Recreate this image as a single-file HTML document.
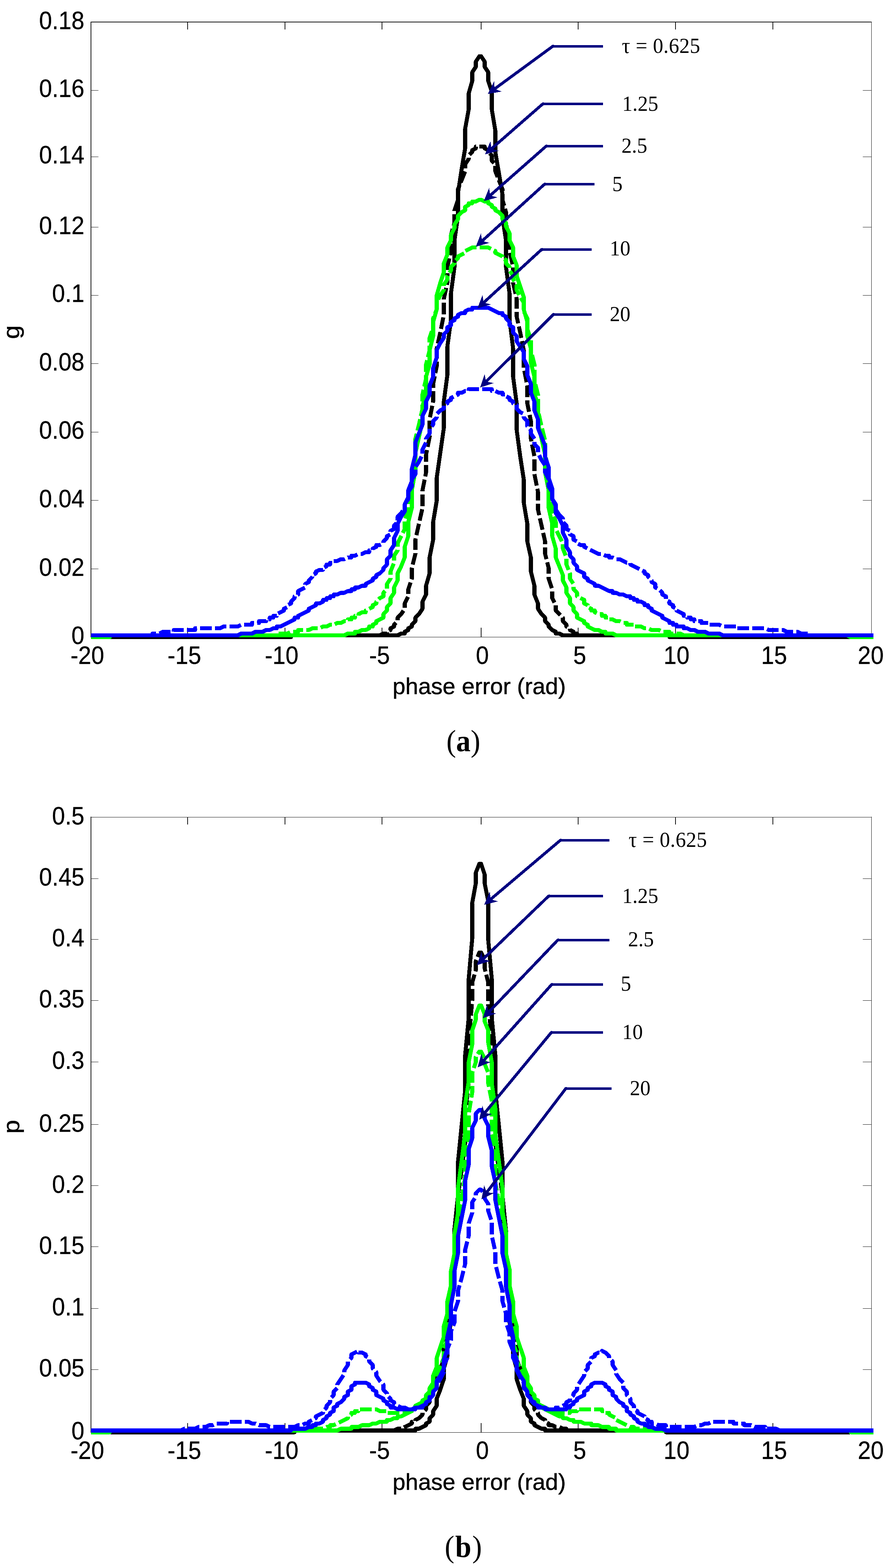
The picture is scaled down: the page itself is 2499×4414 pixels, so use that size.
<!DOCTYPE html>
<html lang="en"><head><meta charset="utf-8"><title>Phase error distributions</title>
<style>html,body{margin:0;padding:0;background:#fff}svg{display:block}text{fill:#000}</style></head>
<body>
<svg width="2499" height="4414" viewBox="0 0 2499 4414">
<rect width="2499" height="4414" fill="#fff"/>
<g>
<rect x="255" y="61" width="2" height="1733" fill="#000" shape-rendering="crispEdges"/>
<rect x="255" y="61" width="2198" height="2" fill="#000" shape-rendering="crispEdges"/>
<rect x="2452" y="61" width="1" height="1733" fill="#000" shape-rendering="crispEdges"/>
<rect x="255" y="1793" width="2198" height="1" fill="#000" shape-rendering="crispEdges"/>
<rect x="527" y="1767" width="2" height="26" fill="#000" shape-rendering="crispEdges"/>
<rect x="527" y="62" width="2" height="21" fill="#000" shape-rendering="crispEdges"/>
<rect x="801" y="1767" width="2" height="26" fill="#000" shape-rendering="crispEdges"/>
<rect x="801" y="62" width="2" height="21" fill="#000" shape-rendering="crispEdges"/>
<rect x="1074" y="1767" width="2" height="26" fill="#000" shape-rendering="crispEdges"/>
<rect x="1074" y="62" width="2" height="21" fill="#000" shape-rendering="crispEdges"/>
<rect x="1353" y="1767" width="2" height="26" fill="#000" shape-rendering="crispEdges"/>
<rect x="1353" y="62" width="2" height="21" fill="#000" shape-rendering="crispEdges"/>
<rect x="1626" y="1767" width="2" height="26" fill="#000" shape-rendering="crispEdges"/>
<rect x="1626" y="62" width="2" height="21" fill="#000" shape-rendering="crispEdges"/>
<rect x="1900" y="1767" width="2" height="26" fill="#000" shape-rendering="crispEdges"/>
<rect x="1900" y="62" width="2" height="21" fill="#000" shape-rendering="crispEdges"/>
<rect x="2174" y="1767" width="2" height="26" fill="#000" shape-rendering="crispEdges"/>
<rect x="2174" y="62" width="2" height="21" fill="#000" shape-rendering="crispEdges"/>
<rect x="257" y="254" width="20" height="1" fill="#000" shape-rendering="crispEdges"/>
<rect x="2428" y="254" width="24" height="1" fill="#000" shape-rendering="crispEdges"/>
<rect x="257" y="441" width="20" height="1" fill="#000" shape-rendering="crispEdges"/>
<rect x="2428" y="441" width="24" height="1" fill="#000" shape-rendering="crispEdges"/>
<rect x="257" y="639" width="20" height="1" fill="#000" shape-rendering="crispEdges"/>
<rect x="2428" y="639" width="24" height="1" fill="#000" shape-rendering="crispEdges"/>
<rect x="257" y="831" width="20" height="1" fill="#000" shape-rendering="crispEdges"/>
<rect x="2428" y="831" width="24" height="1" fill="#000" shape-rendering="crispEdges"/>
<rect x="257" y="1023" width="20" height="1" fill="#000" shape-rendering="crispEdges"/>
<rect x="2428" y="1023" width="24" height="1" fill="#000" shape-rendering="crispEdges"/>
<rect x="257" y="1216" width="20" height="1" fill="#000" shape-rendering="crispEdges"/>
<rect x="2428" y="1216" width="24" height="1" fill="#000" shape-rendering="crispEdges"/>
<rect x="257" y="1408" width="20" height="1" fill="#000" shape-rendering="crispEdges"/>
<rect x="2428" y="1408" width="24" height="1" fill="#000" shape-rendering="crispEdges"/>
<rect x="257" y="1601" width="20" height="1" fill="#000" shape-rendering="crispEdges"/>
<rect x="2428" y="1601" width="24" height="1" fill="#000" shape-rendering="crispEdges"/>
<path d="M311.0,1793.5L819.0,1793.5L819.0,1788.5L1119.0,1788.5L1129.0,1783.5L1139.0,1783.5L1139.0,1778.5L1149.0,1773.5L1149.0,1768.6L1159.0,1763.6L1159.0,1758.6L1169.0,1748.6L1169.0,1738.7L1179.0,1728.7L1189.0,1713.7L1189.0,1693.8L1199.0,1673.8L1199.0,1648.9L1209.0,1614.0L1209.0,1569.2L1219.0,1519.3L1219.0,1469.5L1229.0,1409.6L1229.0,1344.8L1249.0,1205.3L1249.0,1130.5L1259.0,1055.7L1259.0,975.9L1269.0,901.2L1269.0,826.4L1279.0,751.6L1279.0,676.8L1289.0,607.1L1289.0,542.2L1299.0,477.4L1309.0,417.6L1309.0,362.8L1319.0,308.0L1319.0,263.1L1329.0,228.2L1329.0,203.3L1339.0,188.3L1339.0,173.4L1349.0,158.4L1354.0,158.4L1364.0,173.4L1364.0,188.3L1374.0,203.3L1374.0,228.2L1384.0,258.1L1384.0,308.0L1394.0,367.8L1394.0,427.6L1414.0,547.2L1414.0,612.0L1424.0,676.8L1424.0,751.6L1434.0,826.4L1434.0,901.2L1444.0,980.9L1444.0,1060.7L1454.0,1135.5L1454.0,1210.2L1464.0,1285.0L1474.0,1349.8L1474.0,1414.6L1484.0,1474.4L1484.0,1524.3L1494.0,1569.2L1494.0,1609.0L1504.0,1648.9L1504.0,1673.8L1514.0,1698.8L1514.0,1713.7L1524.0,1728.7L1534.0,1738.7L1534.0,1748.6L1544.0,1758.6L1544.0,1763.6L1554.0,1773.5L1564.0,1778.5L1564.0,1783.5L1574.0,1783.5L1584.0,1788.5L1884.0,1788.5L1884.0,1793.5L2391.6,1793.5" fill="none" stroke="#000000" stroke-width="11.2" stroke-linejoin="round" stroke-linecap="butt" shape-rendering="crispEdges"/>
<path d="M900.0,1788.5L1069.0,1788.5L1079.0,1783.5L1089.0,1783.5L1089.0,1778.5L1099.0,1773.5L1099.0,1768.6L1109.0,1763.6L1109.0,1758.6L1119.0,1748.6L1119.0,1738.7L1129.0,1728.7L1139.0,1713.7L1139.0,1698.8L1149.0,1678.8L1149.0,1658.9L1159.0,1629.0L1159.0,1599.1L1169.0,1559.2L1169.0,1519.3L1189.0,1429.6L1189.0,1379.7L1199.0,1329.9L1199.0,1280.0L1209.0,1230.2L1209.0,1180.3L1219.0,1130.5L1219.0,1080.6L1229.0,1030.8L1229.0,980.9L1239.0,936.1L1249.0,886.2L1249.0,841.3L1259.0,796.5L1259.0,751.6L1269.0,706.8L1269.0,661.9L1279.0,627.0L1279.0,592.1L1289.0,562.2L1289.0,532.3L1309.0,482.4L1309.0,462.5L1319.0,447.5L1319.0,437.6L1329.0,427.6L1329.0,422.6L1339.0,417.6L1339.0,412.6L1364.0,412.6L1364.0,417.6L1374.0,422.6L1374.0,427.6L1384.0,437.6L1384.0,452.5L1394.0,462.5L1394.0,482.4L1414.0,532.3L1414.0,562.2L1424.0,597.1L1424.0,632.0L1434.0,666.9L1434.0,706.8L1444.0,751.6L1444.0,796.5L1454.0,841.3L1454.0,891.2L1464.0,936.1L1474.0,985.9L1474.0,1035.8L1484.0,1085.6L1484.0,1135.5L1494.0,1185.3L1494.0,1235.2L1504.0,1285.0L1504.0,1334.9L1514.0,1384.7L1514.0,1434.6L1534.0,1524.3L1534.0,1559.2L1544.0,1599.1L1544.0,1629.0L1554.0,1658.9L1554.0,1683.8L1564.0,1703.8L1564.0,1718.7L1584.0,1738.7L1584.0,1748.6L1594.0,1758.6L1594.0,1763.6L1604.0,1768.6L1604.0,1773.5L1614.0,1778.5L1614.0,1783.5L1624.0,1783.5L1624.0,1788.5L1802.6,1788.5" fill="none" stroke="#000000" stroke-width="11.2" stroke-linejoin="round" stroke-linecap="butt" shape-rendering="crispEdges" stroke-dasharray="33 9" stroke-dashoffset="7.8"/>
<path d="M255.5,1793.5L309.0,1793.5L309.0,1788.5L969.0,1788.5L979.0,1783.5L999.0,1783.5L999.0,1778.5L1009.0,1778.5L1019.0,1773.5L1029.0,1773.5L1039.0,1768.6L1039.0,1763.6L1049.0,1763.6L1049.0,1758.6L1059.0,1753.6L1059.0,1748.6L1079.0,1738.7L1079.0,1728.7L1089.0,1718.7L1089.0,1708.7L1099.0,1698.8L1099.0,1683.8L1109.0,1668.9L1109.0,1653.9L1119.0,1634.0L1119.0,1614.0L1129.0,1594.1L1139.0,1569.2L1139.0,1539.2L1149.0,1509.3L1149.0,1469.5L1159.0,1429.6L1159.0,1379.7L1169.0,1324.9L1169.0,1275.0L1189.0,1185.3L1189.0,1145.4L1199.0,1100.6L1199.0,1060.7L1209.0,1025.8L1209.0,985.9L1219.0,946.0L1219.0,906.2L1229.0,871.3L1229.0,831.4L1239.0,796.5L1249.0,766.6L1249.0,741.6L1259.0,716.7L1259.0,696.8L1269.0,676.8L1269.0,661.9L1279.0,641.9L1279.0,632.0L1289.0,617.0L1289.0,607.1L1299.0,597.1L1309.0,592.1L1309.0,582.1L1319.0,577.1L1319.0,572.2L1329.0,572.2L1329.0,567.2L1339.0,567.2L1349.0,562.2L1354.0,562.2L1364.0,567.2L1374.0,567.2L1374.0,572.2L1384.0,577.1L1384.0,582.1L1394.0,587.1L1394.0,592.1L1404.0,597.1L1414.0,607.1L1414.0,617.0L1424.0,627.0L1424.0,637.0L1434.0,656.9L1434.0,676.8L1444.0,696.8L1444.0,721.7L1454.0,746.6L1454.0,776.5L1474.0,836.4L1474.0,871.3L1484.0,906.2L1484.0,946.0L1494.0,980.9L1494.0,1020.8L1504.0,1060.7L1504.0,1105.6L1514.0,1145.4L1514.0,1190.3L1534.0,1280.0L1534.0,1329.9L1544.0,1379.7L1544.0,1429.6L1554.0,1474.4L1554.0,1509.3L1564.0,1544.2L1564.0,1569.2L1584.0,1619.0L1584.0,1634.0L1594.0,1653.9L1594.0,1668.9L1604.0,1683.8L1604.0,1698.8L1614.0,1708.7L1614.0,1718.7L1624.0,1728.7L1624.0,1738.7L1644.0,1748.6L1644.0,1753.6L1654.0,1758.6L1654.0,1763.6L1674.0,1773.5L1684.0,1773.5L1694.0,1778.5L1704.0,1778.5L1704.0,1783.5L1724.0,1783.5L1734.0,1788.5L2384.0,1788.5L2394.0,1793.5L2458.0,1793.5" fill="none" stroke="#00ff00" stroke-width="11.2" stroke-linejoin="round" stroke-linecap="butt" shape-rendering="crispEdges"/>
<path d="M600.0,1788.5L779.0,1788.5L779.0,1783.5L809.0,1783.5L819.0,1778.5L839.0,1778.5L839.0,1773.5L869.0,1773.5L879.0,1768.6L899.0,1768.6L909.0,1763.6L919.0,1763.6L929.0,1758.6L939.0,1758.6L949.0,1753.6L959.0,1753.6L969.0,1748.6L979.0,1748.6L979.0,1743.6L989.0,1743.6L989.0,1738.7L999.0,1738.7L999.0,1733.7L1009.0,1733.7L1009.0,1728.7L1019.0,1723.7L1029.0,1723.7L1029.0,1718.7L1049.0,1708.7L1049.0,1703.8L1059.0,1698.8L1059.0,1693.8L1069.0,1683.8L1079.0,1678.8L1079.0,1668.9L1089.0,1658.9L1089.0,1643.9L1099.0,1629.0L1099.0,1609.0L1109.0,1584.1L1109.0,1564.2L1119.0,1549.2L1119.0,1529.3L1139.0,1489.4L1139.0,1464.5L1149.0,1434.6L1149.0,1399.7L1159.0,1359.8L1159.0,1319.9L1169.0,1280.0L1169.0,1235.2L1179.0,1195.3L1189.0,1150.4L1189.0,1110.5L1199.0,1065.7L1199.0,1025.8L1209.0,985.9L1209.0,951.0L1219.0,921.1L1219.0,896.2L1229.0,871.3L1229.0,851.3L1239.0,831.4L1249.0,816.4L1249.0,801.5L1259.0,786.5L1259.0,776.5L1269.0,761.6L1269.0,751.6L1279.0,741.6L1279.0,736.7L1289.0,726.7L1289.0,721.7L1309.0,711.7L1309.0,706.8L1329.0,696.8L1374.0,696.8L1394.0,706.8L1394.0,711.7L1414.0,721.7L1414.0,726.7L1424.0,731.7L1424.0,741.6L1434.0,751.6L1434.0,761.6L1444.0,776.5L1444.0,786.5L1454.0,801.5L1454.0,816.4L1464.0,836.4L1474.0,851.3L1474.0,876.2L1484.0,896.2L1484.0,926.1L1494.0,956.0L1494.0,985.9L1504.0,1025.8L1504.0,1070.7L1514.0,1110.5L1514.0,1155.4L1524.0,1200.3L1534.0,1240.2L1534.0,1280.0L1544.0,1319.9L1544.0,1364.8L1554.0,1409.6L1554.0,1439.5L1564.0,1469.5L1564.0,1489.4L1584.0,1529.3L1584.0,1544.2L1594.0,1569.2L1594.0,1589.1L1604.0,1614.0L1604.0,1629.0L1614.0,1643.9L1614.0,1658.9L1624.0,1668.9L1624.0,1678.8L1644.0,1688.8L1644.0,1698.8L1654.0,1703.8L1654.0,1708.7L1664.0,1713.7L1664.0,1718.7L1674.0,1718.7L1674.0,1723.7L1684.0,1728.7L1694.0,1728.7L1694.0,1733.7L1704.0,1733.7L1704.0,1738.7L1714.0,1738.7L1714.0,1743.6L1724.0,1743.6L1734.0,1748.6L1744.0,1748.6L1754.0,1753.6L1764.0,1753.6L1764.0,1758.6L1784.0,1758.6L1784.0,1763.6L1804.0,1763.6L1814.0,1768.6L1824.0,1768.6L1834.0,1773.5L1854.0,1773.5L1864.0,1778.5L1884.0,1778.5L1884.0,1783.5L1914.0,1783.5L1924.0,1788.5L2102.6,1788.5" fill="none" stroke="#00ff00" stroke-width="11.2" stroke-linejoin="round" stroke-linecap="butt" shape-rendering="crispEdges" stroke-dasharray="33 9" stroke-dashoffset="20.8"/>
<path d="M255.5,1788.5L669.0,1788.5L679.0,1783.5L709.0,1783.5L719.0,1778.5L739.0,1778.5L749.0,1773.5L759.0,1773.5L769.0,1768.6L779.0,1768.6L779.0,1763.6L789.0,1763.6L829.0,1743.6L829.0,1738.7L839.0,1738.7L839.0,1733.7L869.0,1718.7L869.0,1713.7L889.0,1703.8L889.0,1698.8L899.0,1698.8L909.0,1693.8L909.0,1688.8L919.0,1688.8L919.0,1683.8L929.0,1683.8L929.0,1678.8L939.0,1678.8L939.0,1673.8L949.0,1673.8L959.0,1668.9L969.0,1668.9L979.0,1663.9L989.0,1663.9L989.0,1658.9L999.0,1658.9L999.0,1653.9L1009.0,1653.9L1019.0,1648.9L1029.0,1648.9L1029.0,1643.9L1049.0,1634.0L1049.0,1629.0L1059.0,1624.0L1059.0,1619.0L1069.0,1614.0L1079.0,1604.1L1079.0,1599.1L1089.0,1589.1L1089.0,1574.1L1099.0,1564.2L1099.0,1549.2L1109.0,1534.3L1109.0,1514.3L1119.0,1494.4L1119.0,1474.4L1129.0,1454.5L1139.0,1439.5L1139.0,1419.6L1149.0,1399.7L1149.0,1379.7L1159.0,1354.8L1159.0,1319.9L1169.0,1280.0L1169.0,1245.1L1189.0,1195.3L1189.0,1170.4L1199.0,1150.4L1199.0,1130.5L1209.0,1110.5L1209.0,1085.6L1219.0,1060.7L1219.0,1035.8L1229.0,1005.9L1229.0,985.9L1239.0,966.0L1249.0,951.0L1249.0,941.0L1259.0,931.1L1259.0,921.1L1269.0,916.1L1269.0,906.2L1279.0,901.2L1279.0,896.2L1289.0,891.2L1289.0,886.2L1299.0,881.2L1309.0,881.2L1309.0,876.2L1319.0,871.3L1329.0,871.3L1329.0,866.3L1374.0,866.3L1404.0,881.2L1414.0,881.2L1414.0,886.2L1424.0,891.2L1424.0,896.2L1434.0,906.2L1434.0,916.1L1444.0,921.1L1444.0,936.1L1454.0,946.0L1454.0,961.0L1474.0,990.9L1474.0,1010.8L1484.0,1030.8L1484.0,1055.7L1494.0,1080.6L1494.0,1105.6L1504.0,1130.5L1504.0,1155.4L1514.0,1180.3L1514.0,1205.3L1534.0,1255.1L1534.0,1285.0L1544.0,1314.9L1544.0,1344.8L1554.0,1374.7L1554.0,1404.7L1564.0,1424.6L1564.0,1444.5L1574.0,1459.5L1584.0,1479.4L1584.0,1499.4L1594.0,1519.3L1594.0,1539.2L1604.0,1554.2L1604.0,1564.2L1614.0,1574.1L1614.0,1584.1L1624.0,1594.1L1624.0,1604.1L1644.0,1614.0L1644.0,1624.0L1654.0,1629.0L1654.0,1634.0L1674.0,1643.9L1674.0,1648.9L1684.0,1648.9L1714.0,1663.9L1724.0,1663.9L1724.0,1668.9L1734.0,1668.9L1744.0,1673.8L1754.0,1673.8L1764.0,1678.8L1774.0,1678.8L1774.0,1683.8L1784.0,1683.8L1784.0,1688.8L1794.0,1688.8L1794.0,1693.8L1804.0,1693.8L1814.0,1698.8L1814.0,1703.8L1824.0,1703.8L1824.0,1708.7L1834.0,1713.7L1834.0,1718.7L1864.0,1733.7L1864.0,1738.7L1884.0,1748.6L1884.0,1753.6L1894.0,1753.6L1894.0,1758.6L1904.0,1758.6L1904.0,1763.6L1924.0,1763.6L1924.0,1768.6L1934.0,1768.6L1944.0,1773.5L1954.0,1773.5L1964.0,1778.5L1984.0,1778.5L1994.0,1783.5L2024.0,1783.5L2034.0,1788.5L2458.0,1788.5" fill="none" stroke="#0000ff" stroke-width="11.2" stroke-linejoin="round" stroke-linecap="butt" shape-rendering="crispEdges"/>
<path d="M255.5,1788.5L429.0,1788.5L429.0,1783.5L449.0,1783.5L459.0,1778.5L489.0,1778.5L489.0,1773.5L549.0,1773.5L549.0,1768.6L619.0,1768.6L629.0,1763.6L669.0,1763.6L679.0,1758.6L709.0,1758.6L709.0,1753.6L729.0,1753.6L729.0,1748.6L749.0,1748.6L749.0,1743.6L759.0,1743.6L759.0,1738.7L769.0,1738.7L769.0,1733.7L779.0,1733.7L779.0,1728.7L799.0,1718.7L799.0,1713.7L809.0,1708.7L809.0,1703.8L819.0,1698.8L819.0,1693.8L829.0,1683.8L829.0,1678.8L839.0,1673.8L839.0,1663.9L859.0,1653.9L859.0,1643.9L869.0,1639.0L869.0,1634.0L879.0,1624.0L879.0,1619.0L889.0,1614.0L889.0,1609.0L899.0,1604.1L909.0,1604.1L909.0,1599.1L919.0,1594.1L919.0,1589.1L929.0,1589.1L929.0,1584.1L939.0,1584.1L939.0,1579.1L949.0,1579.1L959.0,1574.1L969.0,1574.1L979.0,1569.2L989.0,1569.2L989.0,1564.2L999.0,1564.2L1009.0,1559.2L1019.0,1559.2L1029.0,1554.2L1039.0,1554.2L1039.0,1549.2L1049.0,1549.2L1049.0,1544.2L1059.0,1539.2L1059.0,1534.3L1069.0,1534.3L1079.0,1529.3L1079.0,1524.3L1089.0,1514.3L1089.0,1509.3L1099.0,1504.4L1099.0,1494.4L1109.0,1489.4L1109.0,1479.4L1119.0,1469.5L1119.0,1454.5L1129.0,1444.5L1139.0,1429.6L1139.0,1419.6L1149.0,1404.7L1149.0,1384.7L1159.0,1369.8L1159.0,1349.8L1169.0,1334.9L1169.0,1314.9L1179.0,1300.0L1189.0,1280.0L1189.0,1265.1L1199.0,1245.1L1199.0,1235.2L1209.0,1220.2L1209.0,1205.3L1219.0,1195.3L1219.0,1185.3L1229.0,1175.3L1229.0,1165.4L1239.0,1155.4L1249.0,1150.4L1249.0,1140.4L1259.0,1135.5L1259.0,1130.5L1269.0,1125.5L1269.0,1120.5L1289.0,1110.5L1289.0,1105.6L1299.0,1105.6L1309.0,1100.6L1319.0,1100.6L1319.0,1095.6L1384.0,1095.6L1384.0,1100.6L1394.0,1100.6L1404.0,1105.6L1414.0,1105.6L1414.0,1110.5L1424.0,1110.5L1424.0,1115.5L1434.0,1120.5L1434.0,1125.5L1444.0,1130.5L1444.0,1135.5L1454.0,1140.4L1454.0,1150.4L1464.0,1160.4L1474.0,1165.4L1474.0,1175.3L1484.0,1185.3L1484.0,1200.3L1494.0,1210.2L1494.0,1220.2L1504.0,1235.2L1504.0,1250.1L1514.0,1260.1L1514.0,1275.0L1524.0,1295.0L1534.0,1309.9L1534.0,1329.9L1544.0,1349.8L1544.0,1369.8L1554.0,1384.7L1554.0,1404.7L1564.0,1419.6L1564.0,1434.6L1574.0,1449.5L1584.0,1459.5L1584.0,1469.5L1594.0,1479.4L1594.0,1489.4L1604.0,1494.4L1604.0,1504.4L1614.0,1509.3L1614.0,1519.3L1624.0,1524.3L1624.0,1529.3L1634.0,1534.3L1644.0,1534.3L1644.0,1539.2L1684.0,1559.2L1694.0,1559.2L1704.0,1564.2L1714.0,1564.2L1714.0,1569.2L1724.0,1569.2L1734.0,1574.1L1744.0,1574.1L1764.0,1584.1L1774.0,1584.1L1774.0,1589.1L1814.0,1609.0L1814.0,1614.0L1824.0,1619.0L1824.0,1624.0L1834.0,1634.0L1834.0,1639.0L1844.0,1643.9L1844.0,1653.9L1854.0,1658.9L1864.0,1668.9L1864.0,1673.8L1874.0,1678.8L1874.0,1688.8L1884.0,1693.8L1884.0,1698.8L1894.0,1703.8L1894.0,1708.7L1904.0,1713.7L1904.0,1718.7L1924.0,1728.7L1924.0,1733.7L1934.0,1733.7L1934.0,1738.7L1944.0,1738.7L1944.0,1743.6L1954.0,1743.6L1954.0,1748.6L1974.0,1748.6L1974.0,1753.6L1994.0,1753.6L1994.0,1758.6L2024.0,1758.6L2034.0,1763.6L2074.0,1763.6L2074.0,1768.6L2154.0,1768.6L2164.0,1773.5L2204.0,1773.5L2214.0,1778.5L2244.0,1778.5L2254.0,1783.5L2274.0,1783.5L2274.0,1788.5L2458.0,1788.5" fill="none" stroke="#0000ff" stroke-width="11.2" stroke-linejoin="round" stroke-linecap="butt" shape-rendering="crispEdges" stroke-dasharray="33 9" stroke-dashoffset="12.1"/>
<text transform="translate(245.75,1868.5) scale(0.93,1)" font-size="70.4" text-anchor="middle" font-family='"Liberation Sans", Arial, Helvetica, sans-serif' stroke="#000" stroke-width="0.5" >-20</text>
<text transform="translate(518.75,1868.5) scale(0.93,1)" font-size="70.4" text-anchor="middle" font-family='"Liberation Sans", Arial, Helvetica, sans-serif' stroke="#000" stroke-width="0.5" >-15</text>
<text transform="translate(792.5,1868.5) scale(0.93,1)" font-size="70.4" text-anchor="middle" font-family='"Liberation Sans", Arial, Helvetica, sans-serif' stroke="#000" stroke-width="0.5" >-10</text>
<text transform="translate(1068,1868.5) scale(0.93,1)" font-size="70.4" text-anchor="middle" font-family='"Liberation Sans", Arial, Helvetica, sans-serif' stroke="#000" stroke-width="0.5" >-5</text>
<text transform="translate(1357.5,1868.5) scale(0.93,1)" font-size="70.4" text-anchor="middle" font-family='"Liberation Sans", Arial, Helvetica, sans-serif' stroke="#000" stroke-width="0.5" >0</text>
<text transform="translate(1631.5,1868.5) scale(0.93,1)" font-size="70.4" text-anchor="middle" font-family='"Liberation Sans", Arial, Helvetica, sans-serif' stroke="#000" stroke-width="0.5" >5</text>
<text transform="translate(1904,1868.5) scale(0.93,1)" font-size="70.4" text-anchor="middle" font-family='"Liberation Sans", Arial, Helvetica, sans-serif' stroke="#000" stroke-width="0.5" >10</text>
<text transform="translate(2178.5,1868.5) scale(0.93,1)" font-size="70.4" text-anchor="middle" font-family='"Liberation Sans", Arial, Helvetica, sans-serif' stroke="#000" stroke-width="0.5" >15</text>
<text transform="translate(2450.5,1868.5) scale(0.93,1)" font-size="70.4" text-anchor="middle" font-family='"Liberation Sans", Arial, Helvetica, sans-serif' stroke="#000" stroke-width="0.5" >20</text>
<text transform="translate(237.5,81.5) scale(0.93,1)" font-size="70.4" text-anchor="end" font-family='"Liberation Sans", Arial, Helvetica, sans-serif' stroke="#000" stroke-width="0.5" >0.18</text>
<text transform="translate(237.5,272.5) scale(0.93,1)" font-size="70.4" text-anchor="end" font-family='"Liberation Sans", Arial, Helvetica, sans-serif' stroke="#000" stroke-width="0.5" >0.16</text>
<text transform="translate(237.5,459.5) scale(0.93,1)" font-size="70.4" text-anchor="end" font-family='"Liberation Sans", Arial, Helvetica, sans-serif' stroke="#000" stroke-width="0.5" >0.14</text>
<text transform="translate(237.5,658.5) scale(0.93,1)" font-size="70.4" text-anchor="end" font-family='"Liberation Sans", Arial, Helvetica, sans-serif' stroke="#000" stroke-width="0.5" >0.12</text>
<text transform="translate(237.5,850) scale(0.93,1)" font-size="70.4" text-anchor="end" font-family='"Liberation Sans", Arial, Helvetica, sans-serif' stroke="#000" stroke-width="0.5" >0.1</text>
<text transform="translate(237.5,1042.5) scale(0.93,1)" font-size="70.4" text-anchor="end" font-family='"Liberation Sans", Arial, Helvetica, sans-serif' stroke="#000" stroke-width="0.5" >0.08</text>
<text transform="translate(237.5,1235) scale(0.93,1)" font-size="70.4" text-anchor="end" font-family='"Liberation Sans", Arial, Helvetica, sans-serif' stroke="#000" stroke-width="0.5" >0.06</text>
<text transform="translate(237.5,1427.5) scale(0.93,1)" font-size="70.4" text-anchor="end" font-family='"Liberation Sans", Arial, Helvetica, sans-serif' stroke="#000" stroke-width="0.5" >0.04</text>
<text transform="translate(237.5,1620.5) scale(0.93,1)" font-size="70.4" text-anchor="end" font-family='"Liberation Sans", Arial, Helvetica, sans-serif' stroke="#000" stroke-width="0.5" >0.02</text>
<text transform="translate(237.5,1812.5) scale(0.93,1)" font-size="70.4" text-anchor="end" font-family='"Liberation Sans", Arial, Helvetica, sans-serif' stroke="#000" stroke-width="0.5" >0</text>
<text transform="translate(1348.5,1954) scale(1.0,1)" font-size="65" text-anchor="middle" font-family='"Liberation Sans", Arial, Helvetica, sans-serif' stroke="#000" stroke-width="0.7" letter-spacing="0">phase error (rad)</text>
<text transform="translate(54,935) rotate(-90) scale(1.07,1)" font-size="65" text-anchor="middle" font-family='"Liberation Sans", Arial, Helvetica, sans-serif' stroke="#000" stroke-width="0.7">g</text>
<path d="M1696.5,130L1555,130" fill="none" stroke="#000080" stroke-width="7.0" shape-rendering="crispEdges"/>
<path d="M1558.8,130L1556,130L1388.6,252.7" fill="none" stroke="#000080" stroke-width="8.2" stroke-linejoin="bevel" shape-rendering="crispEdges"/>
<path d="M1372.5,264.5L1390.8,228.9L1391.9,250.3L1411.9,257.7Z" fill="#000080" shape-rendering="crispEdges"/>
<path d="M1696.5,292.5L1526.5,292.5" fill="none" stroke="#000080" stroke-width="7.0" shape-rendering="crispEdges"/>
<path d="M1530.3,292.5L1527.5,292.5L1380.1,421.3" fill="none" stroke="#000080" stroke-width="8.2" stroke-linejoin="bevel" shape-rendering="crispEdges"/>
<path d="M1365.0,434.5L1380.2,397.5L1383.1,418.7L1403.7,424.4Z" fill="#000080" shape-rendering="crispEdges"/>
<path d="M1696.5,411L1536.5,411" fill="none" stroke="#000080" stroke-width="7.0" shape-rendering="crispEdges"/>
<path d="M1540.3,411L1537.5,411L1376.5,552.8" fill="none" stroke="#000080" stroke-width="8.2" stroke-linejoin="bevel" shape-rendering="crispEdges"/>
<path d="M1361.5,566.0L1376.6,528.9L1379.5,550.1L1400.2,555.7Z" fill="#000080" shape-rendering="crispEdges"/>
<path d="M1672.5,518.5L1531.5,518.5" fill="none" stroke="#000080" stroke-width="7.0" shape-rendering="crispEdges"/>
<path d="M1535.3,518.5L1532.5,518.5L1353.8,681.0" fill="none" stroke="#000080" stroke-width="8.2" stroke-linejoin="bevel" shape-rendering="crispEdges"/>
<path d="M1339.0,694.5L1353.5,657.2L1356.8,678.4L1377.5,683.6Z" fill="#000080" shape-rendering="crispEdges"/>
<path d="M1665,702.5L1523,702.5" fill="none" stroke="#000080" stroke-width="7.0" shape-rendering="crispEdges"/>
<path d="M1526.8,702.5L1524,702.5L1358.2,854.5" fill="none" stroke="#000080" stroke-width="8.2" stroke-linejoin="bevel" shape-rendering="crispEdges"/>
<path d="M1343.5,868.0L1357.8,830.7L1361.2,851.8L1381.9,857.0Z" fill="#000080" shape-rendering="crispEdges"/>
<path d="M1665,885L1556.5,885" fill="none" stroke="#000080" stroke-width="7.0" shape-rendering="crispEdges"/>
<path d="M1560.3,885L1557.5,885L1365.2,1076.9" fill="none" stroke="#000080" stroke-width="8.2" stroke-linejoin="bevel" shape-rendering="crispEdges"/>
<path d="M1351.0,1091.0L1363.7,1053.1L1368.0,1074.1L1388.9,1078.4Z" fill="#000080" shape-rendering="crispEdges"/>
<text transform="translate(1750,149) scale(0.96,1)" font-size="60.5" text-anchor="start" font-family='"Liberation Serif", "DejaVu Serif", serif' ><tspan letter-spacing="0.6">τ = 0.625</tspan></text>
<text transform="translate(1751,311.5) scale(0.96,1)" font-size="60.5" text-anchor="start" font-family='"Liberation Serif", "DejaVu Serif", serif' >1.25</text>
<text transform="translate(1749,430) scale(0.96,1)" font-size="60.5" text-anchor="start" font-family='"Liberation Serif", "DejaVu Serif", serif' >2.5</text>
<text transform="translate(1723,537.5) scale(0.96,1)" font-size="60.5" text-anchor="start" font-family='"Liberation Serif", "DejaVu Serif", serif' >5</text>
<text transform="translate(1716,718.5) scale(0.96,1)" font-size="60.5" text-anchor="start" font-family='"Liberation Serif", "DejaVu Serif", serif' >10</text>
<text transform="translate(1716,903.5) scale(0.96,1)" font-size="60.5" text-anchor="start" font-family='"Liberation Serif", "DejaVu Serif", serif' >20</text>
<text transform="translate(1304,2115) scale(0.95,1)" font-size="86" text-anchor="middle" letter-spacing="0" font-family='"Liberation Serif", "DejaVu Serif", serif'>(<tspan font-weight="bold">a</tspan>)</text>
</g>
<g>
<rect x="255" y="2299" width="2" height="1734" fill="#000" shape-rendering="crispEdges"/>
<rect x="255" y="2300" width="2198" height="1" fill="#000" shape-rendering="crispEdges"/>
<rect x="2452" y="2299" width="1" height="1734" fill="#000" shape-rendering="crispEdges"/>
<rect x="255" y="4032" width="2198" height="1" fill="#000" shape-rendering="crispEdges"/>
<rect x="527" y="4006" width="2" height="26" fill="#000" shape-rendering="crispEdges"/>
<rect x="527" y="2300" width="2" height="21" fill="#000" shape-rendering="crispEdges"/>
<rect x="801" y="4006" width="2" height="26" fill="#000" shape-rendering="crispEdges"/>
<rect x="801" y="2300" width="2" height="21" fill="#000" shape-rendering="crispEdges"/>
<rect x="1074" y="4006" width="2" height="26" fill="#000" shape-rendering="crispEdges"/>
<rect x="1074" y="2300" width="2" height="21" fill="#000" shape-rendering="crispEdges"/>
<rect x="1353" y="4006" width="2" height="26" fill="#000" shape-rendering="crispEdges"/>
<rect x="1353" y="2300" width="2" height="21" fill="#000" shape-rendering="crispEdges"/>
<rect x="1626" y="4006" width="2" height="26" fill="#000" shape-rendering="crispEdges"/>
<rect x="1626" y="2300" width="2" height="21" fill="#000" shape-rendering="crispEdges"/>
<rect x="1900" y="4006" width="2" height="26" fill="#000" shape-rendering="crispEdges"/>
<rect x="1900" y="2300" width="2" height="21" fill="#000" shape-rendering="crispEdges"/>
<rect x="2174" y="4006" width="2" height="26" fill="#000" shape-rendering="crispEdges"/>
<rect x="2174" y="2300" width="2" height="21" fill="#000" shape-rendering="crispEdges"/>
<rect x="257" y="2473" width="20" height="1" fill="#000" shape-rendering="crispEdges"/>
<rect x="2428" y="2473" width="24" height="1" fill="#000" shape-rendering="crispEdges"/>
<rect x="257" y="2644" width="20" height="1" fill="#000" shape-rendering="crispEdges"/>
<rect x="2428" y="2644" width="24" height="1" fill="#000" shape-rendering="crispEdges"/>
<rect x="257" y="2816" width="20" height="1" fill="#000" shape-rendering="crispEdges"/>
<rect x="2428" y="2816" width="24" height="1" fill="#000" shape-rendering="crispEdges"/>
<rect x="257" y="2989" width="20" height="1" fill="#000" shape-rendering="crispEdges"/>
<rect x="2428" y="2989" width="24" height="1" fill="#000" shape-rendering="crispEdges"/>
<rect x="257" y="3165" width="20" height="1" fill="#000" shape-rendering="crispEdges"/>
<rect x="2428" y="3165" width="24" height="1" fill="#000" shape-rendering="crispEdges"/>
<rect x="257" y="3337" width="20" height="1" fill="#000" shape-rendering="crispEdges"/>
<rect x="2428" y="3337" width="24" height="1" fill="#000" shape-rendering="crispEdges"/>
<rect x="257" y="3509" width="20" height="1" fill="#000" shape-rendering="crispEdges"/>
<rect x="2428" y="3509" width="24" height="1" fill="#000" shape-rendering="crispEdges"/>
<rect x="257" y="3683" width="20" height="1" fill="#000" shape-rendering="crispEdges"/>
<rect x="2428" y="3683" width="24" height="1" fill="#000" shape-rendering="crispEdges"/>
<rect x="257" y="3855" width="20" height="1" fill="#000" shape-rendering="crispEdges"/>
<rect x="2428" y="3855" width="24" height="1" fill="#000" shape-rendering="crispEdges"/>
<path d="M311.0,4032.0L829.0,4032.0L829.0,4027.0L1169.0,4027.0L1169.0,4022.0L1179.0,4022.0L1199.0,4012.0L1199.0,4007.1L1209.0,4002.1L1209.0,3992.1L1219.0,3982.1L1219.0,3972.2L1229.0,3957.2L1229.0,3937.3L1239.0,3912.3L1249.0,3882.4L1249.0,3852.5L1259.0,3817.6L1259.0,3777.8L1269.0,3722.9L1269.0,3653.1L1279.0,3558.4L1279.0,3458.7L1289.0,3364.0L1289.0,3269.3L1309.0,3069.9L1309.0,2970.2L1319.0,2865.5L1319.0,2755.8L1329.0,2641.2L1329.0,2541.5L1339.0,2486.6L1339.0,2456.7L1349.0,2431.8L1354.0,2431.8L1364.0,2461.7L1364.0,2486.6L1374.0,2536.5L1374.0,2646.2L1384.0,2755.8L1384.0,2865.5L1394.0,2970.2L1394.0,3069.9L1414.0,3269.3L1414.0,3364.0L1424.0,3463.7L1424.0,3563.4L1434.0,3653.1L1434.0,3722.9L1444.0,3772.8L1444.0,3817.6L1454.0,3852.5L1454.0,3882.4L1464.0,3912.3L1474.0,3937.3L1474.0,3957.2L1484.0,3972.2L1484.0,3982.1L1494.0,3992.1L1494.0,4002.1L1504.0,4007.1L1504.0,4012.0L1524.0,4022.0L1534.0,4022.0L1534.0,4027.0L1874.0,4027.0L1874.0,4032.0L2392.0,4032.0" fill="none" stroke="#000000" stroke-width="11.2" stroke-linejoin="round" stroke-linecap="butt" shape-rendering="crispEdges"/>
<path d="M1000.0,4027.0L1109.0,4027.0L1119.0,4022.0L1129.0,4022.0L1159.0,4007.1L1159.0,4002.1L1169.0,4002.1L1169.0,3997.1L1179.0,3992.1L1189.0,3982.1L1189.0,3977.2L1199.0,3967.2L1199.0,3957.2L1209.0,3947.2L1209.0,3937.3L1219.0,3922.3L1219.0,3907.4L1229.0,3892.4L1229.0,3872.5L1239.0,3852.5L1249.0,3827.6L1249.0,3797.7L1259.0,3762.8L1259.0,3717.9L1269.0,3668.1L1269.0,3608.3L1279.0,3553.4L1279.0,3493.6L1289.0,3428.8L1289.0,3364.0L1299.0,3294.2L1309.0,3219.4L1309.0,3139.7L1319.0,3045.0L1319.0,2930.3L1329.0,2815.6L1329.0,2765.8L1339.0,2730.9L1339.0,2706.0L1349.0,2681.1L1354.0,2681.1L1364.0,2701.0L1364.0,2725.9L1374.0,2765.8L1374.0,2830.6L1384.0,2925.3L1384.0,3040.0L1394.0,3134.7L1394.0,3219.4L1404.0,3294.2L1414.0,3364.0L1414.0,3428.8L1424.0,3488.6L1424.0,3553.4L1434.0,3608.3L1434.0,3668.1L1444.0,3717.9L1444.0,3762.8L1454.0,3797.7L1454.0,3827.6L1464.0,3852.5L1474.0,3872.5L1474.0,3892.4L1484.0,3907.4L1484.0,3922.3L1494.0,3932.3L1494.0,3947.2L1504.0,3957.2L1504.0,3967.2L1514.0,3977.2L1514.0,3982.1L1524.0,3992.1L1534.0,3997.1L1534.0,4002.1L1544.0,4007.1L1544.0,4012.0L1554.0,4012.0L1564.0,4017.0L1574.0,4017.0L1584.0,4022.0L1594.0,4022.0L1594.0,4027.0L1703.0,4027.0" fill="none" stroke="#000000" stroke-width="11.2" stroke-linejoin="round" stroke-linecap="butt" shape-rendering="crispEdges" stroke-dasharray="33 9" stroke-dashoffset="29.2"/>
<path d="M255.5,4032.0L309.0,4032.0L309.0,4027.0L949.0,4027.0L959.0,4022.0L989.0,4022.0L989.0,4017.0L1009.0,4017.0L1019.0,4012.0L1039.0,4012.0L1049.0,4007.1L1059.0,4007.1L1069.0,4002.1L1089.0,4002.1L1089.0,3997.1L1099.0,3997.1L1109.0,3992.1L1119.0,3992.1L1119.0,3987.1L1129.0,3987.1L1159.0,3972.2L1159.0,3967.2L1169.0,3962.2L1169.0,3957.2L1189.0,3947.2L1189.0,3942.3L1199.0,3937.3L1199.0,3927.3L1209.0,3917.3L1209.0,3907.4L1219.0,3892.4L1219.0,3872.5L1229.0,3847.5L1229.0,3822.6L1249.0,3762.8L1249.0,3732.9L1259.0,3698.0L1259.0,3663.1L1269.0,3618.2L1269.0,3578.3L1279.0,3528.5L1279.0,3473.7L1289.0,3413.8L1289.0,3344.1L1299.0,3269.3L1309.0,3189.5L1309.0,3109.8L1319.0,3045.0L1319.0,2990.1L1329.0,2940.3L1329.0,2900.4L1339.0,2870.5L1339.0,2855.5L1349.0,2830.6L1354.0,2830.6L1364.0,2855.5L1364.0,2875.5L1374.0,2900.4L1374.0,2935.3L1384.0,2990.1L1384.0,3049.9L1394.0,3119.7L1394.0,3194.5L1414.0,3344.1L1414.0,3408.9L1424.0,3468.7L1424.0,3528.5L1434.0,3573.4L1434.0,3618.2L1444.0,3663.1L1444.0,3698.0L1454.0,3732.9L1454.0,3762.8L1474.0,3822.6L1474.0,3847.5L1484.0,3872.5L1484.0,3892.4L1494.0,3907.4L1494.0,3917.3L1504.0,3927.3L1504.0,3937.3L1514.0,3942.3L1514.0,3952.2L1544.0,3967.2L1544.0,3972.2L1574.0,3987.1L1584.0,3987.1L1584.0,3992.1L1594.0,3992.1L1604.0,3997.1L1614.0,3997.1L1614.0,4002.1L1634.0,4002.1L1644.0,4007.1L1664.0,4007.1L1664.0,4012.0L1684.0,4012.0L1694.0,4017.0L1714.0,4017.0L1714.0,4022.0L1734.0,4022.0L1734.0,4027.0L2394.0,4027.0L2394.0,4032.0L2458.0,4032.0" fill="none" stroke="#00ff00" stroke-width="11.2" stroke-linejoin="round" stroke-linecap="butt" shape-rendering="crispEdges"/>
<path d="M700.0,4027.0L879.0,4027.0L879.0,4022.0L909.0,4022.0L919.0,4017.0L929.0,4017.0L929.0,4012.0L939.0,4012.0L979.0,3992.1L979.0,3987.1L989.0,3982.1L989.0,3977.2L999.0,3977.2L999.0,3972.2L1009.0,3972.2L1009.0,3967.2L1059.0,3967.2L1069.0,3972.2L1089.0,3972.2L1089.0,3977.2L1139.0,3977.2L1149.0,3972.2L1159.0,3972.2L1159.0,3967.2L1169.0,3967.2L1169.0,3962.2L1179.0,3962.2L1189.0,3957.2L1189.0,3952.2L1199.0,3947.2L1199.0,3942.3L1209.0,3932.3L1209.0,3922.3L1219.0,3912.3L1219.0,3902.4L1229.0,3887.4L1229.0,3867.5L1239.0,3847.5L1249.0,3822.6L1249.0,3797.7L1259.0,3772.8L1259.0,3737.9L1269.0,3703.0L1269.0,3658.1L1279.0,3608.3L1279.0,3548.4L1289.0,3493.6L1289.0,3433.8L1309.0,3314.1L1309.0,3254.3L1319.0,3194.5L1319.0,3134.7L1329.0,3074.9L1329.0,3020.0L1339.0,2990.1L1339.0,2975.2L1349.0,2960.2L1354.0,2960.2L1364.0,2980.1L1364.0,2995.1L1374.0,3020.0L1374.0,3049.9L1384.0,3099.8L1384.0,3189.5L1394.0,3269.3L1394.0,3329.1L1414.0,3438.8L1414.0,3488.6L1424.0,3538.5L1424.0,3588.3L1434.0,3638.2L1434.0,3693.0L1444.0,3742.9L1444.0,3782.7L1454.0,3807.7L1454.0,3832.6L1464.0,3852.5L1474.0,3867.5L1474.0,3882.4L1484.0,3897.4L1484.0,3907.4L1494.0,3922.3L1494.0,3927.3L1504.0,3937.3L1504.0,3947.2L1514.0,3952.2L1514.0,3957.2L1554.0,3977.2L1604.0,3977.2L1604.0,3972.2L1624.0,3972.2L1624.0,3967.2L1694.0,3967.2L1694.0,3972.2L1704.0,3972.2L1704.0,3977.2L1714.0,3977.2L1714.0,3982.1L1734.0,3992.1L1734.0,3997.1L1774.0,4017.0L1784.0,4017.0L1784.0,4022.0L1824.0,4022.0L1834.0,4027.0L2003.0,4027.0" fill="none" stroke="#00ff00" stroke-width="11.2" stroke-linejoin="round" stroke-linecap="butt" shape-rendering="crispEdges" stroke-dasharray="33 9" stroke-dashoffset="27.9"/>
<path d="M255.5,4027.0L819.0,4027.0L819.0,4022.0L859.0,4022.0L869.0,4017.0L879.0,4017.0L879.0,4012.0L889.0,4012.0L889.0,4007.1L899.0,4007.1L909.0,4002.1L909.0,3997.1L919.0,3992.1L919.0,3987.1L929.0,3982.1L929.0,3977.2L939.0,3972.2L939.0,3962.2L949.0,3957.2L949.0,3952.2L959.0,3947.2L969.0,3937.3L969.0,3932.3L979.0,3927.3L979.0,3917.3L989.0,3912.3L989.0,3902.4L999.0,3897.4L999.0,3892.4L1029.0,3892.4L1039.0,3897.4L1039.0,3902.4L1049.0,3907.4L1049.0,3912.3L1059.0,3917.3L1059.0,3927.3L1079.0,3937.3L1079.0,3942.3L1089.0,3947.2L1089.0,3952.2L1099.0,3957.2L1099.0,3962.2L1109.0,3962.2L1119.0,3967.2L1169.0,3967.2L1169.0,3962.2L1189.0,3962.2L1189.0,3957.2L1199.0,3952.2L1199.0,3947.2L1209.0,3942.3L1209.0,3937.3L1219.0,3927.3L1219.0,3917.3L1229.0,3907.4L1229.0,3887.4L1239.0,3872.5L1249.0,3852.5L1249.0,3827.6L1259.0,3797.7L1259.0,3762.8L1269.0,3717.9L1269.0,3673.1L1279.0,3623.2L1279.0,3578.3L1289.0,3528.5L1289.0,3478.7L1309.0,3378.9L1309.0,3324.1L1319.0,3279.2L1319.0,3234.4L1329.0,3204.5L1329.0,3174.6L1339.0,3154.6L1339.0,3134.7L1349.0,3124.7L1354.0,3124.7L1364.0,3139.7L1364.0,3149.6L1374.0,3169.6L1374.0,3199.5L1384.0,3239.4L1384.0,3284.2L1394.0,3329.1L1394.0,3378.9L1414.0,3478.7L1414.0,3528.5L1424.0,3573.4L1424.0,3623.2L1434.0,3673.1L1434.0,3717.9L1444.0,3762.8L1444.0,3797.7L1454.0,3827.6L1454.0,3852.5L1464.0,3872.5L1474.0,3887.4L1474.0,3902.4L1484.0,3917.3L1484.0,3927.3L1494.0,3937.3L1494.0,3942.3L1504.0,3952.2L1514.0,3957.2L1514.0,3962.2L1534.0,3962.2L1534.0,3967.2L1594.0,3967.2L1594.0,3962.2L1604.0,3962.2L1604.0,3957.2L1614.0,3952.2L1614.0,3947.2L1624.0,3942.3L1624.0,3937.3L1644.0,3927.3L1644.0,3917.3L1654.0,3912.3L1654.0,3907.4L1664.0,3902.4L1664.0,3897.4L1674.0,3892.4L1694.0,3892.4L1704.0,3897.4L1704.0,3902.4L1714.0,3907.4L1714.0,3912.3L1724.0,3917.3L1724.0,3927.3L1734.0,3932.3L1734.0,3937.3L1744.0,3947.2L1754.0,3952.2L1754.0,3957.2L1764.0,3962.2L1764.0,3972.2L1774.0,3977.2L1774.0,3982.1L1784.0,3987.1L1784.0,3992.1L1794.0,3997.1L1794.0,4002.1L1804.0,4007.1L1814.0,4007.1L1814.0,4012.0L1824.0,4012.0L1824.0,4017.0L1834.0,4017.0L1844.0,4022.0L1864.0,4022.0L1874.0,4027.0L2458.0,4027.0" fill="none" stroke="#0000ff" stroke-width="11.2" stroke-linejoin="round" stroke-linecap="butt" shape-rendering="crispEdges"/>
<path d="M255.5,4027.0L509.0,4027.0L519.0,4022.0L549.0,4022.0L559.0,4017.0L579.0,4017.0L589.0,4012.0L599.0,4012.0L609.0,4007.1L639.0,4007.1L639.0,4002.1L699.0,4002.1L709.0,4007.1L719.0,4007.1L729.0,4012.0L749.0,4012.0L759.0,4017.0L829.0,4017.0L839.0,4012.0L849.0,4012.0L859.0,4007.1L869.0,4007.1L869.0,4002.1L889.0,3992.1L889.0,3987.1L909.0,3977.2L909.0,3972.2L919.0,3962.2L919.0,3957.2L929.0,3947.2L929.0,3937.3L939.0,3927.3L939.0,3917.3L949.0,3907.4L949.0,3897.4L969.0,3867.5L969.0,3857.5L979.0,3842.6L979.0,3832.6L989.0,3822.6L989.0,3812.6L1009.0,3802.7L1009.0,3807.7L1019.0,3807.7L1029.0,3812.6L1029.0,3817.6L1039.0,3822.6L1039.0,3832.6L1049.0,3842.6L1049.0,3852.5L1059.0,3862.5L1059.0,3872.5L1069.0,3887.4L1079.0,3897.4L1079.0,3912.3L1089.0,3922.3L1089.0,3927.3L1099.0,3937.3L1099.0,3942.3L1109.0,3947.2L1109.0,3952.2L1129.0,3962.2L1139.0,3962.2L1149.0,3967.2L1159.0,3967.2L1169.0,3962.2L1179.0,3962.2L1189.0,3957.2L1189.0,3952.2L1199.0,3952.2L1199.0,3947.2L1209.0,3942.3L1209.0,3932.3L1219.0,3927.3L1219.0,3917.3L1229.0,3907.4L1229.0,3897.4L1239.0,3882.4L1249.0,3862.5L1249.0,3842.6L1259.0,3822.6L1259.0,3797.7L1269.0,3772.8L1269.0,3747.8L1279.0,3722.9L1279.0,3693.0L1289.0,3663.1L1289.0,3633.2L1299.0,3598.3L1309.0,3558.4L1309.0,3518.5L1319.0,3478.7L1319.0,3443.8L1329.0,3413.8L1329.0,3383.9L1339.0,3369.0L1339.0,3359.0L1349.0,3349.0L1354.0,3349.0L1364.0,3364.0L1364.0,3374.0L1374.0,3388.9L1374.0,3408.9L1384.0,3438.8L1384.0,3478.7L1394.0,3523.5L1394.0,3558.4L1404.0,3598.3L1414.0,3633.2L1414.0,3663.1L1424.0,3698.0L1424.0,3722.9L1434.0,3752.8L1434.0,3777.8L1444.0,3802.7L1444.0,3822.6L1454.0,3842.6L1454.0,3857.5L1464.0,3877.4L1474.0,3892.4L1474.0,3907.4L1484.0,3917.3L1484.0,3927.3L1494.0,3937.3L1494.0,3942.3L1504.0,3947.2L1504.0,3952.2L1524.0,3962.2L1534.0,3962.2L1544.0,3967.2L1564.0,3967.2L1564.0,3962.2L1574.0,3962.2L1594.0,3952.2L1594.0,3947.2L1604.0,3942.3L1604.0,3937.3L1614.0,3927.3L1614.0,3922.3L1624.0,3912.3L1624.0,3902.4L1644.0,3872.5L1644.0,3862.5L1654.0,3852.5L1654.0,3842.6L1664.0,3832.6L1664.0,3822.6L1674.0,3817.6L1674.0,3812.6L1684.0,3807.7L1694.0,3807.7L1694.0,3802.7L1704.0,3807.7L1714.0,3817.6L1714.0,3822.6L1724.0,3832.6L1724.0,3842.6L1734.0,3857.5L1734.0,3867.5L1744.0,3882.4L1754.0,3892.4L1754.0,3907.4L1764.0,3917.3L1764.0,3927.3L1774.0,3937.3L1774.0,3947.2L1784.0,3957.2L1784.0,3967.2L1794.0,3972.2L1794.0,3977.2L1814.0,3987.1L1814.0,3992.1L1824.0,3997.1L1824.0,4002.1L1834.0,4002.1L1834.0,4007.1L1844.0,4007.1L1854.0,4012.0L1874.0,4012.0L1874.0,4017.0L1954.0,4017.0L1964.0,4012.0L1974.0,4012.0L1984.0,4007.1L1994.0,4007.1L2004.0,4002.1L2064.0,4002.1L2064.0,4007.1L2094.0,4007.1L2094.0,4012.0L2114.0,4012.0L2124.0,4017.0L2154.0,4017.0L2154.0,4022.0L2184.0,4022.0L2194.0,4027.0L2458.0,4027.0" fill="none" stroke="#0000ff" stroke-width="11.2" stroke-linejoin="round" stroke-linecap="butt" shape-rendering="crispEdges" stroke-dasharray="33 9" stroke-dashoffset="19.2"/>
<text transform="translate(245.75,4107) scale(0.93,1)" font-size="70.4" text-anchor="middle" font-family='"Liberation Sans", Arial, Helvetica, sans-serif' stroke="#000" stroke-width="0.5" >-20</text>
<text transform="translate(518.75,4107) scale(0.93,1)" font-size="70.4" text-anchor="middle" font-family='"Liberation Sans", Arial, Helvetica, sans-serif' stroke="#000" stroke-width="0.5" >-15</text>
<text transform="translate(792.5,4107) scale(0.93,1)" font-size="70.4" text-anchor="middle" font-family='"Liberation Sans", Arial, Helvetica, sans-serif' stroke="#000" stroke-width="0.5" >-10</text>
<text transform="translate(1068,4107) scale(0.93,1)" font-size="70.4" text-anchor="middle" font-family='"Liberation Sans", Arial, Helvetica, sans-serif' stroke="#000" stroke-width="0.5" >-5</text>
<text transform="translate(1357.5,4107) scale(0.93,1)" font-size="70.4" text-anchor="middle" font-family='"Liberation Sans", Arial, Helvetica, sans-serif' stroke="#000" stroke-width="0.5" >0</text>
<text transform="translate(1631.5,4107) scale(0.93,1)" font-size="70.4" text-anchor="middle" font-family='"Liberation Sans", Arial, Helvetica, sans-serif' stroke="#000" stroke-width="0.5" >5</text>
<text transform="translate(1904,4107) scale(0.93,1)" font-size="70.4" text-anchor="middle" font-family='"Liberation Sans", Arial, Helvetica, sans-serif' stroke="#000" stroke-width="0.5" >10</text>
<text transform="translate(2178.5,4107) scale(0.93,1)" font-size="70.4" text-anchor="middle" font-family='"Liberation Sans", Arial, Helvetica, sans-serif' stroke="#000" stroke-width="0.5" >15</text>
<text transform="translate(2450.5,4107) scale(0.93,1)" font-size="70.4" text-anchor="middle" font-family='"Liberation Sans", Arial, Helvetica, sans-serif' stroke="#000" stroke-width="0.5" >20</text>
<text transform="translate(237.5,2320.5) scale(0.93,1)" font-size="70.4" text-anchor="end" font-family='"Liberation Sans", Arial, Helvetica, sans-serif' stroke="#000" stroke-width="0.5" >0.5</text>
<text transform="translate(237.5,2492.5) scale(0.93,1)" font-size="70.4" text-anchor="end" font-family='"Liberation Sans", Arial, Helvetica, sans-serif' stroke="#000" stroke-width="0.5" >0.45</text>
<text transform="translate(237.5,2664.25) scale(0.93,1)" font-size="70.4" text-anchor="end" font-family='"Liberation Sans", Arial, Helvetica, sans-serif' stroke="#000" stroke-width="0.5" >0.4</text>
<text transform="translate(237.5,2836.25) scale(0.93,1)" font-size="70.4" text-anchor="end" font-family='"Liberation Sans", Arial, Helvetica, sans-serif' stroke="#000" stroke-width="0.5" >0.35</text>
<text transform="translate(237.5,3009.25) scale(0.93,1)" font-size="70.4" text-anchor="end" font-family='"Liberation Sans", Arial, Helvetica, sans-serif' stroke="#000" stroke-width="0.5" >0.3</text>
<text transform="translate(237.5,3185.5) scale(0.93,1)" font-size="70.4" text-anchor="end" font-family='"Liberation Sans", Arial, Helvetica, sans-serif' stroke="#000" stroke-width="0.5" >0.25</text>
<text transform="translate(237.5,3358) scale(0.93,1)" font-size="70.4" text-anchor="end" font-family='"Liberation Sans", Arial, Helvetica, sans-serif' stroke="#000" stroke-width="0.5" >0.2</text>
<text transform="translate(237.5,3529.5) scale(0.93,1)" font-size="70.4" text-anchor="end" font-family='"Liberation Sans", Arial, Helvetica, sans-serif' stroke="#000" stroke-width="0.5" >0.15</text>
<text transform="translate(237.5,3703) scale(0.93,1)" font-size="70.4" text-anchor="end" font-family='"Liberation Sans", Arial, Helvetica, sans-serif' stroke="#000" stroke-width="0.5" >0.1</text>
<text transform="translate(237.5,3874.5) scale(0.93,1)" font-size="70.4" text-anchor="end" font-family='"Liberation Sans", Arial, Helvetica, sans-serif' stroke="#000" stroke-width="0.5" >0.05</text>
<text transform="translate(237.5,4052) scale(0.93,1)" font-size="70.4" text-anchor="end" font-family='"Liberation Sans", Arial, Helvetica, sans-serif' stroke="#000" stroke-width="0.5" >0</text>
<text transform="translate(1348.5,4193.5) scale(1.0,1)" font-size="65" text-anchor="middle" font-family='"Liberation Sans", Arial, Helvetica, sans-serif' stroke="#000" stroke-width="0.7" letter-spacing="0">phase error (rad)</text>
<text transform="translate(54,3172) rotate(-90) scale(1.07,1)" font-size="65" text-anchor="middle" font-family='"Liberation Sans", Arial, Helvetica, sans-serif' stroke="#000" stroke-width="0.7">p</text>
<path d="M1715,2365L1576.5,2365" fill="none" stroke="#000080" stroke-width="7.0" shape-rendering="crispEdges"/>
<path d="M1580.3,2365L1577.5,2365L1377.8,2534.1" fill="none" stroke="#000080" stroke-width="8.2" stroke-linejoin="bevel" shape-rendering="crispEdges"/>
<path d="M1362.5,2547.0L1378.3,2510.2L1380.8,2531.5L1401.4,2537.5Z" fill="#000080" shape-rendering="crispEdges"/>
<path d="M1696.5,2522.5L1543,2522.5" fill="none" stroke="#000080" stroke-width="7.0" shape-rendering="crispEdges"/>
<path d="M1546.8,2522.5L1544,2522.5L1356.2,2703.1" fill="none" stroke="#000080" stroke-width="8.2" stroke-linejoin="bevel" shape-rendering="crispEdges"/>
<path d="M1341.8,2717.0L1355.2,2679.3L1359.0,2700.4L1379.9,2705.1Z" fill="#000080" shape-rendering="crispEdges"/>
<path d="M1715,2646L1569,2646" fill="none" stroke="#000080" stroke-width="7.0" shape-rendering="crispEdges"/>
<path d="M1572.8,2646L1570,2646L1372.6,2852.1" fill="none" stroke="#000080" stroke-width="8.2" stroke-linejoin="bevel" shape-rendering="crispEdges"/>
<path d="M1358.8,2866.5L1370.6,2828.3L1375.4,2849.2L1396.4,2853.0Z" fill="#000080" shape-rendering="crispEdges"/>
<path d="M1696.5,2771.5L1551.5,2771.5" fill="none" stroke="#000080" stroke-width="7.0" shape-rendering="crispEdges"/>
<path d="M1555.3,2771.5L1552.5,2771.5L1357.6,2989.6" fill="none" stroke="#000080" stroke-width="8.2" stroke-linejoin="bevel" shape-rendering="crispEdges"/>
<path d="M1344.2,3004.5L1354.8,2965.9L1360.2,2986.6L1381.4,2989.7Z" fill="#000080" shape-rendering="crispEdges"/>
<path d="M1696.5,2906.5L1550.5,2906.5" fill="none" stroke="#000080" stroke-width="7.0" shape-rendering="crispEdges"/>
<path d="M1554.3,2906.5L1551.5,2906.5L1361.2,3136.6" fill="none" stroke="#000080" stroke-width="8.2" stroke-linejoin="bevel" shape-rendering="crispEdges"/>
<path d="M1348.5,3152.0L1357.6,3113.0L1363.8,3133.5L1385.1,3135.8Z" fill="#000080" shape-rendering="crispEdges"/>
<path d="M1721,3064L1591.5,3064" fill="none" stroke="#000080" stroke-width="7.0" shape-rendering="crispEdges"/>
<path d="M1595.3,3064L1592.5,3064L1367.1,3360.1" fill="none" stroke="#000080" stroke-width="8.2" stroke-linejoin="bevel" shape-rendering="crispEdges"/>
<path d="M1355.0,3376.0L1362.5,3336.7L1369.5,3356.9L1390.9,3358.3Z" fill="#000080" shape-rendering="crispEdges"/>
<text transform="translate(1769,2384) scale(0.96,1)" font-size="60.5" text-anchor="start" font-family='"Liberation Serif", "DejaVu Serif", serif' ><tspan letter-spacing="0.6">τ = 0.625</tspan></text>
<text transform="translate(1751,2541.5) scale(0.96,1)" font-size="60.5" text-anchor="start" font-family='"Liberation Serif", "DejaVu Serif", serif' >1.25</text>
<text transform="translate(1767.5,2663.5) scale(0.96,1)" font-size="60.5" text-anchor="start" font-family='"Liberation Serif", "DejaVu Serif", serif' >2.5</text>
<text transform="translate(1747,2789) scale(0.96,1)" font-size="60.5" text-anchor="start" font-family='"Liberation Serif", "DejaVu Serif", serif' >5</text>
<text transform="translate(1751,2925) scale(0.96,1)" font-size="60.5" text-anchor="start" font-family='"Liberation Serif", "DejaVu Serif", serif' >10</text>
<text transform="translate(1772.5,3082.5) scale(0.96,1)" font-size="60.5" text-anchor="start" font-family='"Liberation Serif", "DejaVu Serif", serif' >20</text>
<text transform="translate(1305,4383) scale(0.95,1)" font-size="86" text-anchor="middle" letter-spacing="2.5" font-family='"Liberation Serif", "DejaVu Serif", serif'>(<tspan font-weight="bold">b</tspan>)</text>
</g>
</svg>
</body></html>
